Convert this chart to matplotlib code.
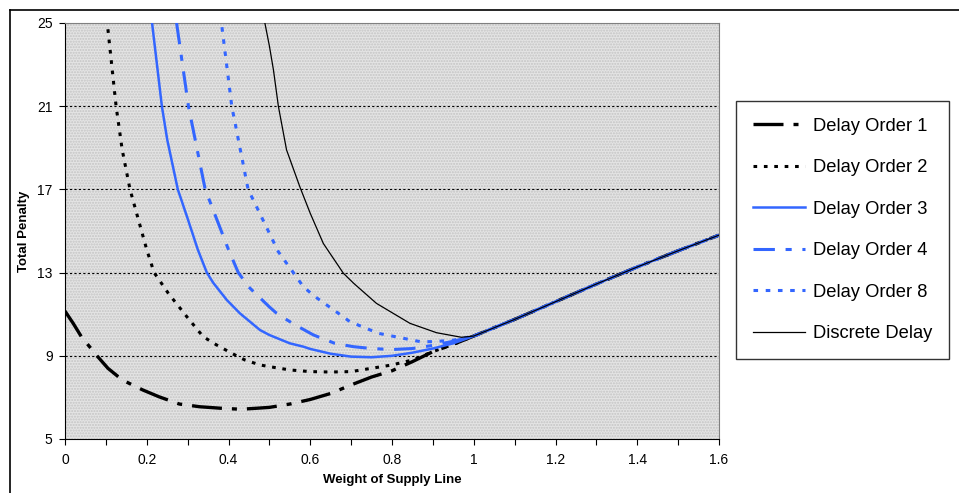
import matplotlib
matplotlib.use("Agg")
import matplotlib.pyplot as plt
from matplotlib.patches import Rectangle
from matplotlib.lines import Line2D

plt.rcParams['font.family'] = ['Liberation Sans', 'DejaVu Sans']

# shared right-hand branch (all curves coincide past w = 1.0)
tail_x = [1.1, 1.2, 1.3, 1.4, 1.5, 1.6]
tail_y = [10.75, 11.6, 12.45, 13.27, 14.05, 14.8]

order1_x = [0, 0.02, 0.04, 0.08, 0.105, 0.14, 0.19, 0.23, 0.28, 0.33, 0.38, 0.43, 0.47,
            0.5, 0.55, 0.6, 0.65, 0.7, 0.75, 0.8, 0.85, 0.9, 0.95, 1.0]
order1_y = [11.15, 10.56, 9.92, 8.96, 8.4, 7.84, 7.36, 7.03, 6.68, 6.55, 6.48, 6.43, 6.48,
            6.52, 6.68, 6.9, 7.19, 7.6, 7.98, 8.28, 8.72, 9.2, 9.55, 9.95]

order2_x = [0.105, 0.125, 0.14, 0.159, 0.2, 0.218, 0.253, 0.298, 0.338, 0.371, 0.408, 0.44,
            0.477, 0.5, 0.55, 0.6, 0.65, 0.7, 0.75, 0.8, 0.85, 0.9, 0.95, 1.0]
order2_y = [24.7, 21, 18.9, 17, 14.1, 13, 12.0, 10.88, 9.92, 9.52, 9.12, 8.8,
            8.56, 8.48, 8.32, 8.24, 8.22, 8.24, 8.4, 8.56, 8.8, 9.2, 9.55, 9.95]

order3_x = [0.213, 0.237, 0.25, 0.276, 0.3, 0.325, 0.347, 0.363, 0.396, 0.428, 0.477, 0.5,
            0.55, 0.583, 0.6, 0.65, 0.7, 0.75, 0.8, 0.85, 0.9, 0.95, 1.0]
order3_y = [25, 21, 19.4, 17, 15.6, 14.1, 13, 12.5, 11.68, 11.04, 10.24, 10.0,
            9.6, 9.44, 9.33, 9.1, 8.96, 8.93, 9.0, 9.15, 9.35, 9.6, 9.95]

order4_x = [0.273, 0.302, 0.343, 0.4, 0.424, 0.45, 0.5, 0.518, 0.559, 0.608, 0.66, 0.705,
            0.75, 0.8, 0.85, 0.9, 0.95, 1.0]
order4_y = [25, 21, 17, 14.1, 13, 12.3, 11.35, 11.04, 10.53, 10.0, 9.6, 9.44,
            9.35, 9.3, 9.35, 9.5, 9.7, 9.95]

order8_x = [0.384, 0.408, 0.448, 0.506, 0.522, 0.563, 0.583, 0.612, 0.669, 0.697, 0.767,
            0.8, 0.869, 0.9, 0.95, 1.0]
order8_y = [24.8, 21, 17, 14.65, 14.0, 12.88, 12.32, 11.84, 11.04, 10.64, 10.08,
            9.95, 9.68, 9.68, 9.75, 9.95]

disc_x = [0.489, 0.5, 0.51, 0.522, 0.542, 0.575, 0.6, 0.632, 0.681, 0.706, 0.762, 0.844,
          0.909, 0.97, 1.0]
disc_y = [25, 23.9, 22.74, 21, 18.9, 17.1, 15.85, 14.4, 12.97, 12.49, 11.52, 10.56,
          10.11, 9.89, 9.95]

labels = ["Delay Order 1", "Delay Order 2", "Delay Order 3",
          "Delay Order 4", "Delay Order 8", "Discrete Delay"]

blue = "#3366FF"
styles = [
    dict(color="black", lw=2.4, dashes=(9, 3, 1.5, 3)),
    dict(color="black", lw=2.2, dashes=(1.2, 2.2)),
    dict(color=blue, lw=1.8),
    dict(color=blue, lw=2.2, dashes=(7, 3.5, 2, 3.5)),
    dict(color=blue, lw=2.2, dashes=(1.5, 2.5)),
    dict(color="black", lw=0.9),
]

series = [(order1_x, order1_y), (order2_x, order2_y), (order3_x, order3_y),
          (order4_x, order4_y), (order8_x, order8_y), (disc_x, disc_y)]

fig = plt.figure(figsize=(9.59, 4.93), dpi=100)
ax = fig.add_axes([65/959, 1-439/493, (719-65)/959, (439-23)/493])

# stippled grey plot area
ax.set_facecolor("#e4e4e4")
ax.add_patch(Rectangle((0, 0), 1, 1, transform=ax.transAxes, facecolor="none",
                       edgecolor="#c4c4c4", hatch="......", lw=0, zorder=0))

for yv in [9, 13, 17, 21]:
    ax.axhline(yv, color="black", lw=0.8, ls=(0, (2, 2)), zorder=1)

handles = []
for (xs, ys), st, lab in zip(series, styles, labels):
    ax.plot(list(xs) + tail_x, list(ys) + tail_y, zorder=3, **st)
    handles.append(Line2D([], [], **st))

ax.set_xlim(0, 1.6)
ax.set_ylim(5, 25)
ax.set_xticks([i / 10 for i in range(17)])
ax.set_xticklabels(["0" if i == 0 else (f"{i/10:g}" if i % 2 == 0 else "") for i in range(17)])
ax.set_yticks([5, 9, 13, 17, 21, 25])
ax.tick_params(direction="out", length=4, width=0.8, labelsize=10, colors="black")
ax.tick_params(axis="x", pad=6)
ax.tick_params(axis="y", pad=5)

for s in ["top", "right"]:
    ax.spines[s].set_color("#808080")
for s in ["left", "bottom"]:
    ax.spines[s].set_color("black")

ax.set_xlabel("Weight of Supply Line", fontsize=9.5, fontweight="bold", labelpad=5)
ax.set_ylabel("Total Penalty", fontsize=9.5, fontweight="bold", labelpad=5)

leg = fig.legend(handles, labels, loc="center left", bbox_to_anchor=(736/959, 1-230/493),
                 borderaxespad=0, fontsize=13.2, frameon=True, fancybox=False,
                 handlelength=2.85, handletextpad=0.45, labelspacing=1.34,
                 borderpad=0.9)
leg.get_frame().set_edgecolor("black")
leg.get_frame().set_linewidth(1.0)

# outer chart border
fig.add_artist(Line2D([10/959, 10/959], [0, 1-10/493], color="black", lw=1.2,
                      transform=fig.transFigure))
fig.add_artist(Line2D([10/959, 1], [1-10/493, 1-10/493], color="black", lw=1.2,
                      transform=fig.transFigure))

fig.savefig("out.png", dpi=100)
